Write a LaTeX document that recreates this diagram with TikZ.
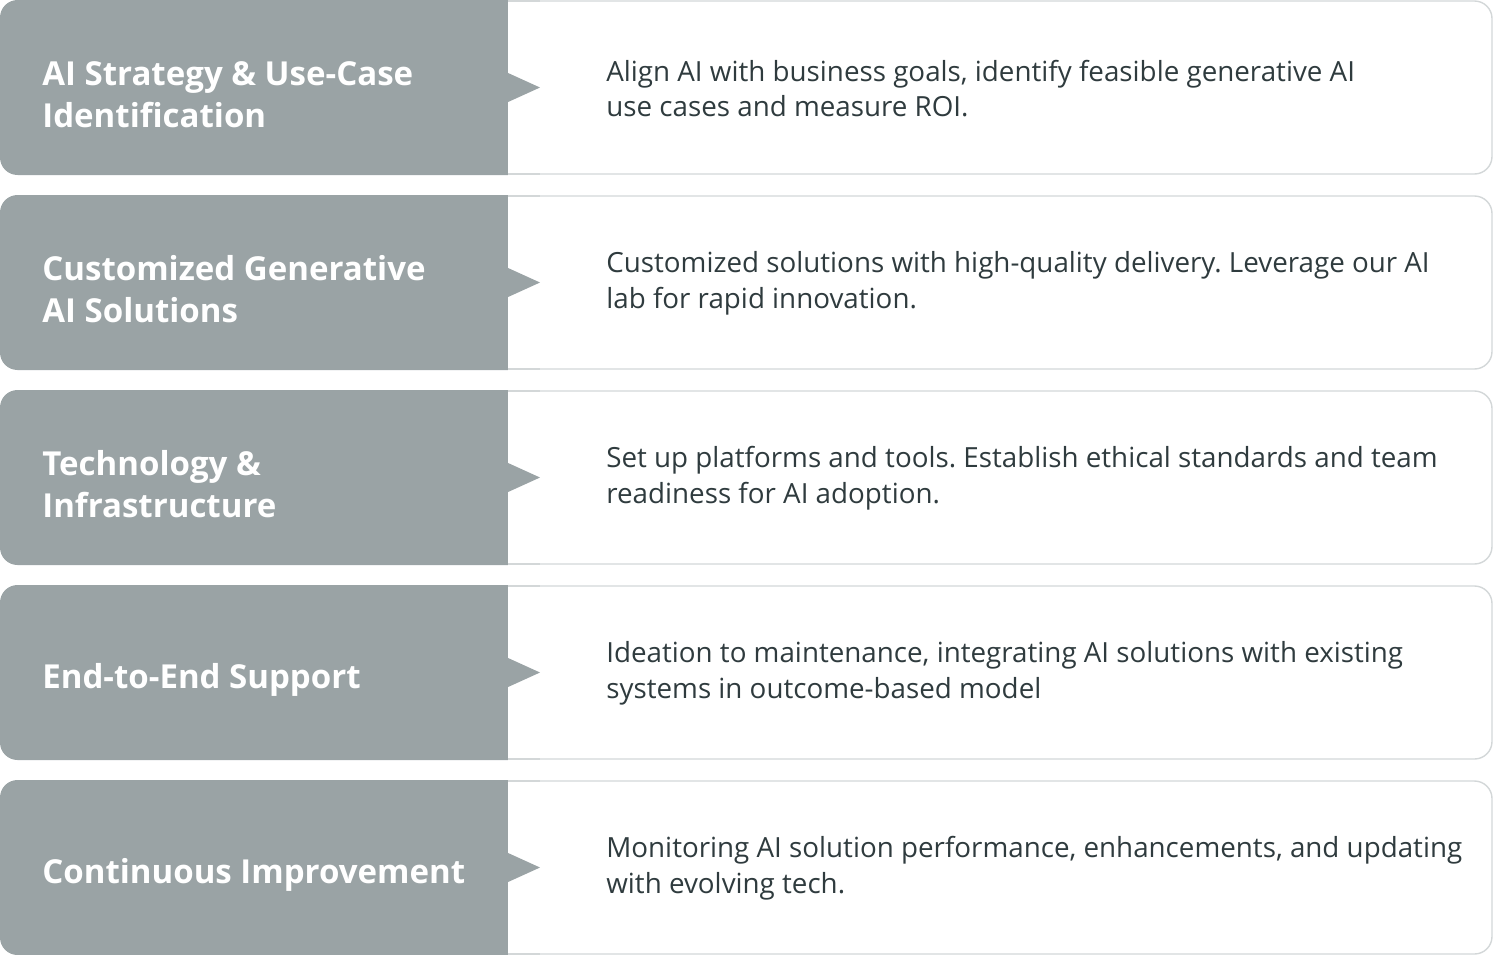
\documentclass[tikz,border=0pt]{standalone}
\usepackage{fontspec}
\setmainfont{Open Sans}
\frenchspacing
\definecolor{stepgrey}{HTML}{9AA3A5}
\definecolor{stepline}{HTML}{D3D7D8}
\definecolor{steptext}{HTML}{2F3B3E}
\tikzset{
  steptitle/.style={anchor=west, align=left, text=white, inner sep=0pt,
    font=\bfseries\fontsize{18.8}{23.8}\selectfont},
  stepdesc/.style={anchor=west, align=left, text=steptext, inner sep=0pt,
    font=\fontsize{15.8}{20.4}\selectfont},
}
\begin{document}
\begin{tikzpicture}[x=0.02cm, y=-0.02cm]
\useasboundingbox (0,0) rectangle (1494,954);
\foreach \t/\d [count=\i from 0] in {
  {AI Strategy \& Use-Case\\Identification}/{Align AI with business goals, identify feasible generative AI\\use cases and measure ROI.},
  {Customized Generative\\AI Solutions}/{Customized solutions with high-quality delivery. Leverage our AI\\lab for rapid innovation.},
  {Technology \&\\Infrastructure}/{Set up platforms and tools. Establish ethical standards and team\\readiness for AI adoption.},
  {End-to-End Support}/{Ideation to maintenance, integrating AI solutions with existing\\systems in outcome-based model},
  {Continuous Improvement}/{Monitoring AI solution performance, enhancements, and updating\\with evolving tech.}} {
  \pgfmathsetmacro\top{\i*195}
  \pgfmathsetmacro\mid{\top+87.5}
  % white description box
  \draw[stepline, line width=0.8pt, rounded corners=10] (2,\top+1) rectangle (1492,\top+174);
  % grey title block
  \fill[stepgrey, rounded corners=10] (0,\top) rectangle (530,\top+175);
  \fill[white] (508,\top) rectangle (540,\top+176);
  \draw[stepline, line width=0.8pt] (508,\top+1) -- (540,\top+1) (508,\top+174) -- (540,\top+174);
  \fill[stepgrey] (507,\mid-15) -- (540,\mid) -- (507,\mid+15) -- cycle;
  \node[steptitle] (title\i) at (42,\mid+7) {\t};
  \node[stepdesc] (desc\i) at (606,\mid+1) {\d};
}
\end{tikzpicture}
\end{document}
